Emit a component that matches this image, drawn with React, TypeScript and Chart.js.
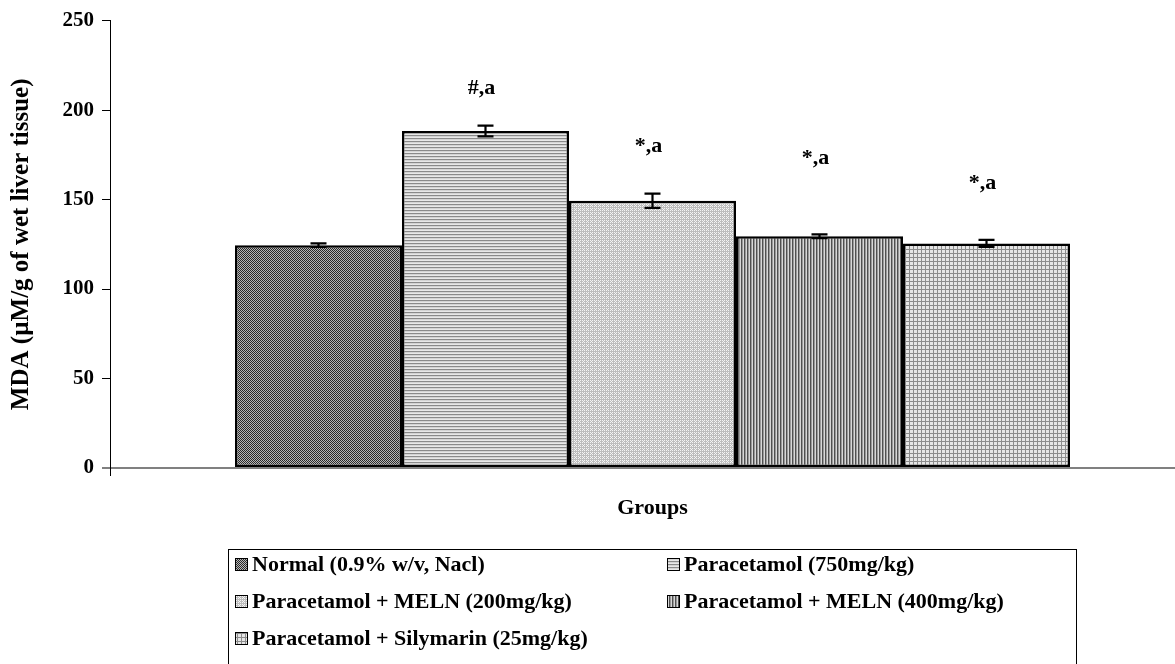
import React, { useEffect, useRef } from 'react';
import { Chart, registerables } from 'chart.js';

Chart.register(...registerables);

const categories = ['Groups'];
const seriesLabels = [
  'Normal (0.9% w/v, Nacl)',
  'Paracetamol (750mg/kg)',
  'Paracetamol + MELN (200mg/kg)',
  'Paracetamol + MELN (400mg/kg)',
  'Paracetamol + Silymarin (25mg/kg)',
];
const mdaValues = [124.5, 188.3, 149.3, 129.5, 125.5];
const mdaErrors = [1, 3, 4, 1, 2];
const annotationTexts = ['', '#,a', '*,a', '*,a', '*,a'];
const annotationValues: (number | null)[] = [null, 212, 180, 173, 159];
const yTickValues = [0, 50, 100, 150, 200, 250];
const yTitle = 'MDA (µM/g of wet liver tissue)';
const xTitle = 'Groups';

const FONT = '"Liberation Serif", "Times New Roman", serif';

function makePattern(w: number, h: number, fn: (x: number, y: number) => string): CanvasPattern | string {
  const c = document.createElement('canvas');
  c.width = w;
  c.height = h;
  const ctx = c.getContext('2d');
  if (!ctx) return '#999';
  for (let y = 0; y < h; y++) {
    for (let x = 0; x < w; x++) {
      ctx.fillStyle = fn(x, y);
      ctx.fillRect(x, y, 1, 1);
    }
  }
  const ctx2 = document.createElement('canvas').getContext('2d');
  return (ctx2 && ctx2.createPattern(c, 'repeat')) || '#999';
}

export default function App() {
  const ref = useRef<HTMLCanvasElement>(null);

  useEffect(() => {
    if (!ref.current) return;
    const patterns = [
      makePattern(2, 2, (x, y) => ((x + y) % 2 === 0 ? '#2a2a2a' : '#b8b8b8')),
      makePattern(1, 3, (x, y) => (y === 0 ? '#8a8a8a' : y === 1 ? '#d4d4d4' : '#e8e8e8')),
      makePattern(4, 4, (x, y) => ((x % 2 === 0 && y % 2 === 0) || (x === 3 && y === 1) ? '#f4f4f4' : '#bdbdbd')),
      makePattern(3, 1, (x) => (x === 0 ? '#505050' : x === 1 ? '#9a9a9a' : '#d8d8d8')),
      makePattern(4, 4, (x, y) => (x === 1 || y === 1 ? '#8c8c8c' : '#e6e6e6')),
    ];

    const errorBars = {
      id: 'errorBars',
      afterDatasetsDraw(chart: any) {
        const ctx = chart.ctx;
        const yScale = chart.scales.y;
        ctx.save();
        ctx.strokeStyle = '#000';
        ctx.lineWidth = 2.2;
        chart.data.datasets.forEach((ds: any, i: number) => {
          const meta = chart.getDatasetMeta(i);
          meta.data.forEach((bar: any, j: number) => {
            const v = ds.data[j];
            const e = mdaErrors[i];
            const yTop = yScale.getPixelForValue(v + e);
            const yBot = yScale.getPixelForValue(v - e);
            const x = bar.x;
            ctx.beginPath();
            ctx.moveTo(x, yTop);
            ctx.lineTo(x, yBot);
            ctx.moveTo(x - 8, yTop);
            ctx.lineTo(x + 8, yTop);
            ctx.moveTo(x - 8, yBot);
            ctx.lineTo(x + 8, yBot);
            ctx.stroke();
            const t = annotationTexts[i];
            const av = annotationValues[i];
            if (t && av != null) {
              ctx.fillStyle = '#000';
              ctx.font = `bold 22px ${FONT}`;
              ctx.textAlign = 'center';
              ctx.textBaseline = 'middle';
              ctx.fillText(t, x - 4, yScale.getPixelForValue(av));
            }
          });
        });
        // small extension of the value axis below the category axis
        const area = chart.chartArea;
        ctx.beginPath();
        ctx.lineWidth = 1;
        ctx.strokeStyle = '#000';
        ctx.moveTo(area.left + 0.5, area.bottom);
        ctx.lineTo(area.left + 0.5, area.bottom + 8);
        ctx.stroke();
        ctx.restore();
      },
    };

    const legendBox = {
      id: 'legendBox',
      afterDraw(chart: any) {
        const ctx = chart.ctx;
        ctx.save();
        ctx.strokeStyle = '#000';
        ctx.lineWidth = 1;
        ctx.strokeRect(228.5, 549.5, 848, 140);
        const cols = [235, 667];
        const rows = [564, 601, 638];
        ctx.font = `bold 22px ${FONT}`;
        ctx.textBaseline = 'middle';
        ctx.textAlign = 'left';
        chart.data.datasets.forEach((ds: any, i: number) => {
          const x = cols[i % 2];
          const y = rows[Math.floor(i / 2)];
          ctx.fillStyle = ds.backgroundColor;
          ctx.fillRect(x, y - 6, 13, 13);
          ctx.lineWidth = 1;
          ctx.strokeStyle = '#000';
          ctx.strokeRect(x + 0.5, y - 5.5, 12, 12);
          ctx.fillStyle = '#000';
          ctx.fillText(ds.label, x + 17, y + 1);
        });
        ctx.restore();
      },
    };

    const chart = new Chart(ref.current, {
      type: 'bar',
      data: {
        labels: categories,
        datasets: seriesLabels.map((label, i) => ({
          label,
          data: [mdaValues[i]],
          backgroundColor: patterns[i] as any,
          borderColor: '#000',
          borderWidth: 2.5,
          borderSkipped: false,
          barPercentage: 1,
          categoryPercentage: 0.7696,
        })),
      },
      options: {
        animation: false,
        responsive: false,
        layout: { padding: { top: 20, right: 5, bottom: 136, left: 0 } },
        plugins: {
          legend: { display: false },
          tooltip: { enabled: false },
        },
        scales: {
          x: {
            grid: { display: false },
            border: { display: true, color: '#808080', width: 2 },
            ticks: { display: false },
            title: {
              display: true,
              text: xTitle,
              color: '#000',
              font: { family: FONT, size: 22, weight: 'bold' },
              padding: { top: 0, bottom: 6 },
            },
            afterFit(scale: any) {
              scale.height = 60;
            },
          },
          y: {
            min: 0,
            max: 250,
            afterBuildTicks(scale: any) {
              scale.ticks = yTickValues.map((v) => ({ value: v }));
            },
            grid: {
              display: true,
              drawOnChartArea: false,
              drawTicks: true,
              tickLength: 8,
              color: (c: any) => (c.tick && c.tick.value === 0 ? '#808080' : '#000'),
              lineWidth: (c: any) => (c.tick && c.tick.value === 0 ? 2 : 1),
            },
            border: { display: true, color: '#000', width: 1 },
            ticks: {
              color: '#000',
              padding: 8,
              font: { family: FONT, size: 21, weight: 'bold' },
            },
            title: {
              display: true,
              text: yTitle,
              color: '#000',
              font: { family: FONT, size: 25, weight: 'bold' },
              padding: { top: 7, bottom: 0 },
            },
            afterFit(scale: any) {
              scale.width = 110;
            },
          },
        },
      },
      plugins: [errorBars, legendBox],
    });
    return () => chart.destroy();
  }, []);

  return (
    <div style={{ position: 'fixed', left: 0, top: 0, width: 1175, height: 664, overflow: 'hidden', background: '#fff' }}>
      <canvas ref={ref} width={1200} height={664} style={{ width: 1200, height: 664, display: 'block' }} />
    </div>
  );
}
